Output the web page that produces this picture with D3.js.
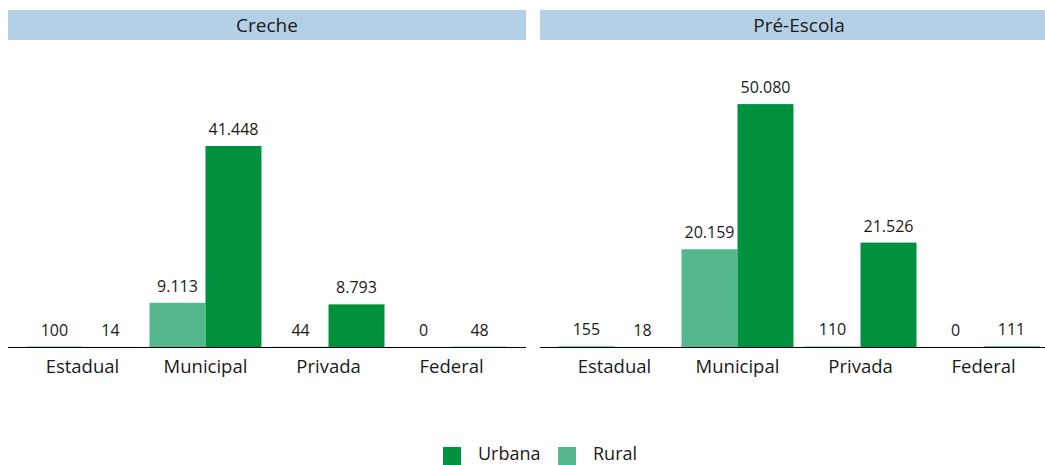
<!DOCTYPE html>
<html>
<head>
<meta charset="utf-8">
<script src="https://cdn.jsdelivr.net/npm/d3@7"></script>
<style>
  body { margin: 0; background: #fff; }
  text { font-family: "Open Sans", sans-serif; fill: #1a1a1a; }
</style>
</head>
<body>
<div id="chart-area"></div>
<script>
// matriculas por dependencia
var panels = ["Creche", "Pré-Escola"];
var categories = ["Estadual", "Municipal", "Privada", "Federal"];
var series = ["Rural", "Urbana"];
var crecheRural = [100, 9113, 44, 0];
var crecheUrbana = [14, 41448, 8793, 48];
var preRural = [155, 20159, 110, 0];
var preUrbana = [18, 50080, 21526, 111];

var colors = { Urbana: "#00913f", Rural: "#55b88c" };

var width = 1045, height = 465;
var panelW = 518, panelGap = 14, left = 8;
var stripTop = 10, stripH = 30;
var baseY = 347, topY = 56;

var svg = d3.select("#chart-area")
	.append("svg")
		.attr("width", width)
		.attr("height", height);

var fmt = d3.formatLocale({ decimal: ",", thousands: ".", grouping: [3], currency: ["R$", ""] }).format(",d");

var y = d3.scaleLinear()
	.domain([0, 60000])
	.range([baseY, topY]);

var panelData = [
	{ name: panels[0], rural: crecheRural, urbana: crecheUrbana },
	{ name: panels[1], rural: preRural, urbana: preUrbana }
];

panelData.forEach(function(p, pi){
	var x0 = left + pi * (panelW + panelGap);
	var g = svg.append("g").attr("transform", "translate(" + x0 + ",0)");

	// strip
	g.append("rect")
		.attr("x", 0).attr("y", stripTop)
		.attr("width", panelW).attr("height", stripH)
		.attr("fill", "#b4d0e6");
	g.append("text")
		.attr("x", panelW / 2).attr("y", stripTop + stripH / 2)
		.attr("dy", "0.35em")
		.attr("text-anchor", "middle")
		.attr("font-size", "19px")
		.text(p.name);

	var x = d3.scaleBand()
		.domain(categories)
		.range([0, panelW])
		.paddingInner(0.09)
		.paddingOuter(0.15);

	var x1 = d3.scaleBand()
		.domain(series)
		.range([0, x.bandwidth()]);

	var rows = [];
	categories.forEach(function(c, i){
		rows.push({ cat: c, s: "Rural", v: p.rural[i] });
		rows.push({ cat: c, s: "Urbana", v: p.urbana[i] });
	});

	g.selectAll("rect.bar")
		.data(rows)
		.enter().append("rect")
			.attr("class", "bar")
			.attr("x", function(d){ return x(d.cat) + x1(d.s); })
			.attr("y", function(d){ return y(d.v); })
			.attr("width", x1.bandwidth())
			.attr("height", function(d){ return baseY - y(d.v); })
			.attr("fill", function(d){ return colors[d.s]; });

	g.selectAll("text.val")
		.data(rows)
		.enter().append("text")
			.attr("class", "val")
			.attr("x", function(d){ return x(d.cat) + x1(d.s) + x1.bandwidth() / 2; })
			.attr("y", function(d){ return y(d.v) - 11; })
			.attr("text-anchor", "middle")
			.attr("font-size", "16px")
			.text(function(d){ return fmt(d.v); });

	var axis = g.append("g")
		.attr("transform", "translate(0," + baseY + ")")
		.call(d3.axisBottom(x).tickSize(0).tickPadding(13));
	axis.select(".domain").attr("stroke", "#000").attr("d", "M0,0.5H" + panelW);
	axis.selectAll(".tick text")
		.attr("font-size", "18.5px")
		.attr("font-family", "Open Sans, sans-serif")
		.attr("fill", "#1a1a1a");
});

// legend
var legendItems = ["Urbana", "Rural"];
var legendX = [443, 558];
var lg = svg.append("g");
legendItems.forEach(function(s, i){
	lg.append("rect")
		.attr("x", legendX[i]).attr("y", 447)
		.attr("width", 18).attr("height", 18)
		.attr("fill", colors[s]);
	lg.append("text")
		.attr("x", legendX[i] + 35).attr("y", 454)
		.attr("dy", "0.35em")
		.attr("font-size", "18px")
		.text(s);
});
</script>
</body>
</html>
